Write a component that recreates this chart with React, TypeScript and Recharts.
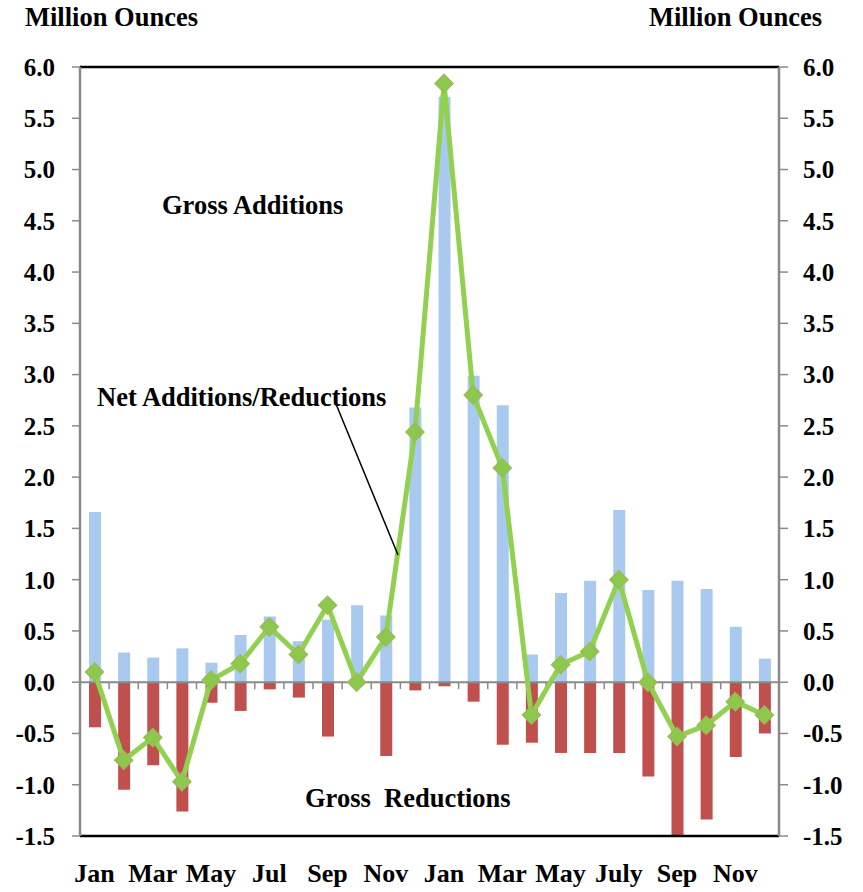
import React from "react";
import {
  ComposedChart,
  Bar,
  Line,
  XAxis,
  YAxis,
  CartesianGrid,
  ReferenceLine,
} from "recharts";

// monthly values, million ounces
const months = [
  "Jan", "Feb", "Mar", "Apr", "May", "Jun", "Jul", "Aug", "Sep", "Oct", "Nov", "Dec",
  "Jan", "Feb", "Mar", "Apr", "May", "Jun", "July", "Aug", "Sep", "Oct", "Nov", "Dec",
];
const grossAdditions = [
  1.66, 0.29, 0.24, 0.33, 0.19, 0.46, 0.64, 0.4, 0.61, 0.75, 0.65, 2.68,
  5.71, 2.99, 2.7, 0.27, 0.87, 0.99, 1.68, 0.9, 0.99, 0.91, 0.54, 0.23,
];
const grossReductions = [
  -0.44, -1.05, -0.81, -1.26, -0.2, -0.28, -0.07, -0.15, -0.53, 0, -0.72, -0.08,
  -0.04, -0.19, -0.61, -0.59, -0.69, -0.69, -0.69, -0.92, -1.51, -1.34, -0.73, -0.5,
];
const netChange = [
  0.1, -0.76, -0.54, -0.97, 0.02, 0.18, 0.54, 0.27, 0.75, 0.0, 0.44, 2.44,
  5.84, 2.8, 2.09, -0.32, 0.17, 0.3, 1.0, 0.0, -0.53, -0.42, -0.19, -0.32,
];
const yTicks = [-1.5, -1.0, -0.5, 0, 0.5, 1.0, 1.5, 2.0, 2.5, 3.0, 3.5, 4.0, 4.5, 5.0, 5.5, 6.0];

const data = months.map((m, i) => ({
  month: m,
  additions: grossAdditions[i],
  reductions: grossReductions[i],
  net: netChange[i],
}));

const FONT = "'Liberation Serif', 'Times New Roman', serif";
const yTickStyle = { fontFamily: FONT, fontWeight: 700, fontSize: 25, fill: "#000" };
const xTickStyle = { fontFamily: FONT, fontWeight: 700, fontSize: 26, fill: "#000" };

// green diamond markers
const Diamond = (props: any) => {
  const { cx, cy } = props;
  if (cx == null || cy == null) return null;
  const r = 9;
  return (
    <polygon
      points={`${cx},${cy - r} ${cx + r},${cy} ${cx},${cy + r} ${cx - r},${cy}`}
      fill="#8CC84B"
      stroke="#9BBB59"
      strokeWidth={1.5}
    />
  );
};

// zero line with small tick marks between months
const ZeroLine = (props: any) => {
  const { x1, y1, x2, y2 } = props;
  const step = (x2 - x1) / months.length;
  return (
    <g>
      <line x1={x1} y1={y1} x2={x2} y2={y2} stroke="#8a8a8a" strokeWidth={2} />
      {months.slice(1).map((_, i) => (
        <line
          key={i}
          x1={x1 + step * (i + 1)}
          x2={x1 + step * (i + 1)}
          y1={y1}
          y2={y1 + 7}
          stroke="#8a8a8a"
          strokeWidth={1.5}
        />
      ))}
    </g>
  );
};

const label = (left: number, top: number, text: string) => (
  <div
    style={{
      position: "absolute",
      left,
      top,
      fontFamily: FONT,
      fontWeight: 700,
      fontSize: 26.5,
      whiteSpace: "pre",
      lineHeight: "30px",
    }}
  >
    {text}
  </div>
);

export default function App() {
  return (
    <div style={{ position: "absolute", left: 0, top: 0, width: 863, height: 892, background: "#fff" }}>
      <ComposedChart
        width={863}
        height={892}
        data={data}
        stackOffset="sign"
        margin={{ top: 67, right: 0, bottom: 0, left: 0 }}
      >
        <CartesianGrid vertical={false} stroke="#8a8a8a" strokeWidth={1.5} />
        <XAxis
          dataKey="month"
          interval={1}
          tickLine={false}
          tickMargin={22}
          height={56}
          axisLine={{ stroke: "#000", strokeWidth: 2.5 }}
          tick={xTickStyle}
        />
        <YAxis
          yAxisId="left"
          domain={[-1.5, 6]}
          ticks={yTicks}
          allowDataOverflow
          width={80}
          tickSize={8}
          tickMargin={17}
          tickFormatter={(v: number) => v.toFixed(1)}
          axisLine={{ stroke: "#8a8a8a", strokeWidth: 2.5 }}
          tickLine={{ stroke: "#8a8a8a", strokeWidth: 1.5 }}
          tick={yTickStyle}
        />
        <YAxis
          yAxisId="right"
          orientation="right"
          domain={[-1.5, 6]}
          ticks={yTicks}
          allowDataOverflow
          width={84}
          tickSize={9}
          tickMargin={15}
          tickFormatter={(v: number) => v.toFixed(1)}
          axisLine={{ stroke: "#8a8a8a", strokeWidth: 2.5 }}
          tickLine={{ stroke: "#8a8a8a", strokeWidth: 1.5 }}
          tick={yTickStyle}
        />
        <Bar
          yAxisId="left"
          dataKey="additions"
          stackId="gross"
          fill="#A9CAEE"
          barSize={12}
          isAnimationActive={false}
        />
        <Bar
          yAxisId="left"
          dataKey="reductions"
          stackId="gross"
          fill="#C0504D"
          barSize={12}
          isAnimationActive={false}
        />
        <ReferenceLine yAxisId="left" y={0} shape={ZeroLine} />
        <ReferenceLine yAxisId="left" y={6} stroke="#000" strokeWidth={2.5} />
        <Line
          yAxisId="left"
          type="linear"
          dataKey="net"
          stroke="#92D050"
          strokeWidth={5}
          dot={<Diamond />}
          activeDot={false}
          isAnimationActive={false}
        />
        <Line
          yAxisId="right"
          dataKey="net"
          stroke="none"
          dot={false}
          activeDot={false}
          legendType="none"
          isAnimationActive={false}
        />
      </ComposedChart>

      {label(25, 2, "Million Ounces")}
      {label(649, 2, "Million Ounces")}
      {label(162, 190, "Gross Additions")}
      {label(97, 382, "Net Additions/Reductions")}
      {label(305, 783, "Gross  Reductions")}
      <svg
        width={863}
        height={892}
        style={{ position: "absolute", left: 0, top: 0, pointerEvents: "none" }}
      >
        <line x1={336} y1={404} x2={398} y2={555} stroke="#000" strokeWidth={1.5} />
      </svg>
    </div>
  );
}
